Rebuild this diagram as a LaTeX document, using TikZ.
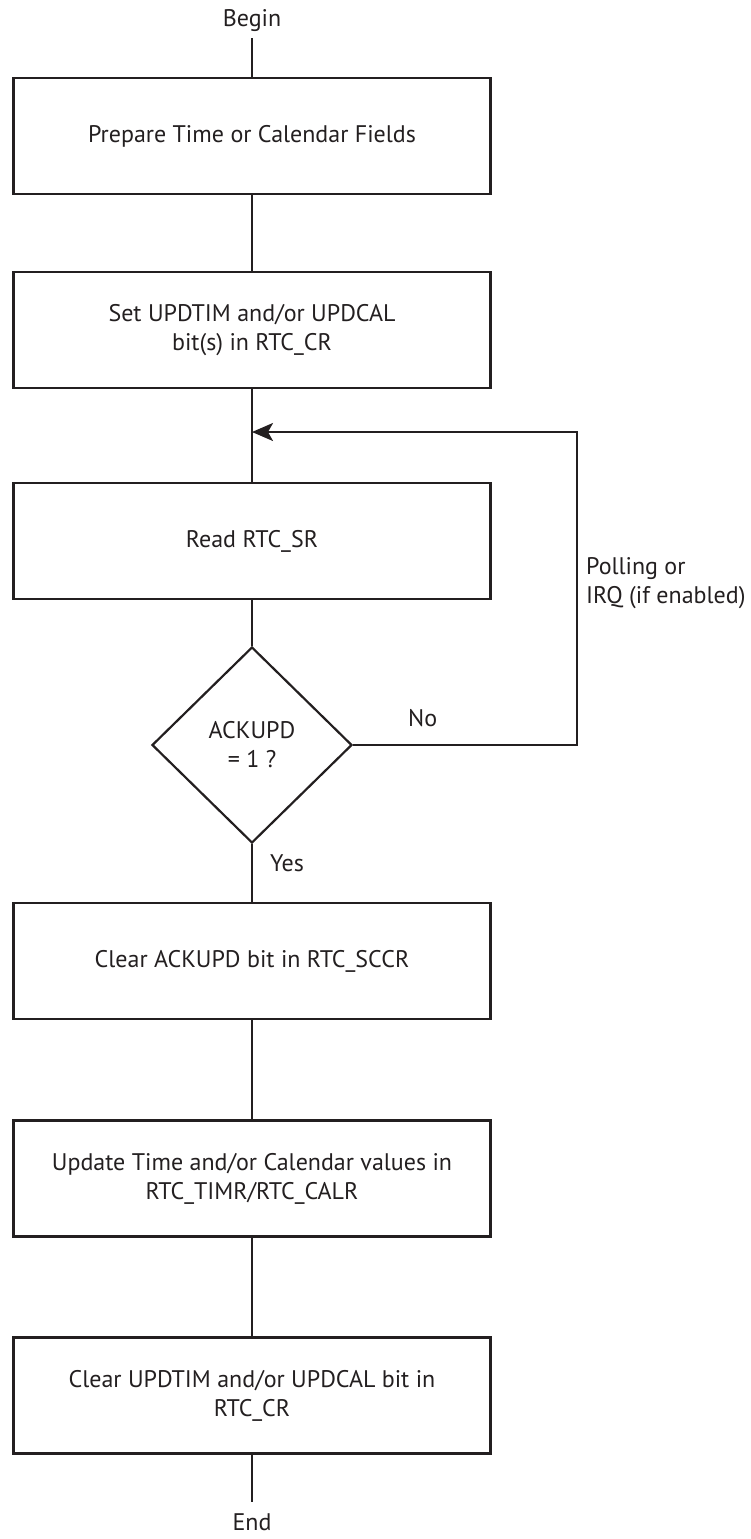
\documentclass[tikz,border=0pt]{standalone}
\usepackage{fontspec}
\setmainfont{PT Sans}
\usetikzlibrary{shapes.geometric,arrows.meta}
\definecolor{ink}{HTML}{231F20}
\begin{document}
\begin{tikzpicture}[x=1pt,y=-1pt,
  every node/.style={font=\fontsize{24}{29}\selectfont, text=ink},
  stepbox/.style={draw=ink, line width=2.2pt, rectangle, minimum width=477pt, minimum height=116pt, align=center, inner sep=0pt},
  decision/.style={draw=ink, line width=2.2pt, diamond, minimum width=200pt, minimum height=196pt, align=center, inner sep=0pt},
  term/.style={inner sep=0pt},
  lbl/.style={inner sep=0pt, align=left},
  conn/.style={draw=ink, line width=2.2pt},
  arr/.style={conn, -{Stealth[length=21pt, width=18pt, inset=5pt]}}
]
\useasboundingbox (0,0) rectangle (750,1539);

\node[term, anchor=base] (begin) at (252,27) {Begin};
\node[stepbox] (b1) at (252,136) {Prepare Time or Calendar Fields};
\node[stepbox] (b2) at (252,330) {Set UPDTIM and/or UPDCAL\\bit(s) in RTC\_CR};
\node[stepbox] (b3) at (252,541) {Read RTC\_SR};
\node[decision] (d) at (252,745) {ACKUPD\\= 1 ?};
\node[stepbox] (b4) at (252,961) {Clear ACKUPD bit in RTC\_SCCR};
\node[stepbox] (b5) at (252,1178.5) {Update Time and/or Calendar values in\\RTC\_TIMR/RTC\_CALR};
\node[stepbox] (b6) at (252,1395.5) {Clear UPDTIM and/or UPDCAL bit in\\RTC\_CR};
\node[term, anchor=base] (end) at (252,1530) {End};

\node[lbl, anchor=west] (no) at (408,718) {No};
\node[lbl, anchor=west] (yes) at (270,863) {Yes};
\node[lbl, anchor=west] (poll) at (586,583) {Polling or\\IRQ (if enabled)};

\coordinate (bt) at (252,38);
\coordinate (et) at (252,1502);
\coordinate (join) at (252,432);
\coordinate (lp) at (577,745);
\coordinate (lq) at (577,432);

\draw[conn] (bt) -- (b1.north);
\draw[conn] (b1) -- (b2);
\draw[conn] (b2.south) -- (b3.north);
\draw[conn] (b3.south) -- (d.north);
\draw[conn] (d.south) -- (b4.north);
\draw[conn] (b4) -- (b5);
\draw[conn] (b5) -- (b6);
\draw[conn] (b6.south) -- (et);
\draw[arr] (d.east) -- (lp) -- (lq) -- (join);
\end{tikzpicture}
\end{document}
